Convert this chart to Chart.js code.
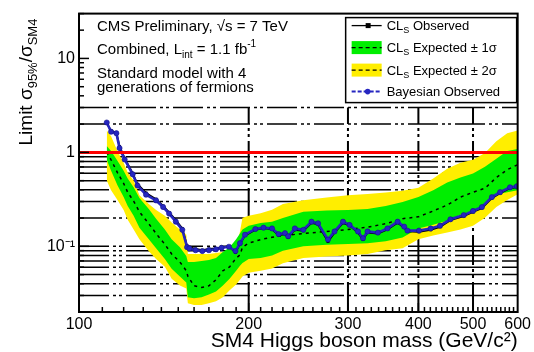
<!DOCTYPE html>
<html>
<head>
<meta charset="utf-8">
<script src="https://cdn.jsdelivr.net/npm/chart.js@4.4.0/dist/chart.umd.min.js"></script>
<style>
  html, body { margin: 0; padding: 0; background: #ffffff; }
  #c { display: block; }
</style>
</head>
<body>
<canvas id="c" width="534" height="352" style="width:534px;height:352px"></canvas>
<script>
// ---- Expected limits (median and 1/2 sigma bands) vs. mass ----
const expMass = [112,114,117,120,122,125,128,133,137,142,146,151,155,156,160,165,170,175,180,185,190,193,195,200,210,220,230,250,275,300,325,350,375,400,425,450,475,500,525,550,575,600];
const expMedian = [1.01,0.833,0.609,0.467,0.376,0.303,0.233,0.174,0.137,0.105,0.083,0.068,0.055,0.048,0.038,0.0365,0.038,0.044,0.055,0.0605,0.075,0.081,0.098,0.108,0.118,0.125,0.130,0.137,0.144,0.151,0.160,0.174,0.197,0.206,0.238,0.275,0.334,0.376,0.415,0.540,0.655,0.739];
const exp1SigHigh = [1.167,1.034,0.813,0.639,0.527,0.425,0.326,0.250,0.197,0.151,0.119,0.098,0.079,0.068,0.068,0.070,0.0716,0.075,0.087,0.098,0.119,0.137,0.151,0.166,0.177,0.183,0.200,0.233,0.240,0.244,0.250,0.269,0.296,0.334,0.395,0.479,0.540,0.595,0.704,0.853,1.034,1.085];
const exp1SigLow = [0.833,0.639,0.446,0.334,0.269,0.211,0.158,0.119,0.0955,0.0733,0.0577,0.0476,0.0412,0.0287,0.0280,0.0287,0.0308,0.0331,0.0383,0.0453,0.0549,0.0620,0.0666,0.0733,0.075,0.080,0.090,0.100,0.104,0.106,0.108,0.113,0.1245,0.155,0.170,0.1875,0.2165,0.238,0.275,0.359,0.376,0.395];
const exp2SigHigh = [1.714,1.484,1.034,0.775,0.609,0.503,0.350,0.282,0.244,0.211,0.179,0.151,0.134,0.0827,0.0827,0.0827,0.0827,0.0847,0.0868,0.0889,0.0933,0.144,0.201,0.211,0.225,0.245,0.282,0.31,0.33,0.35,0.36,0.375,0.39,0.42,0.527,0.671,0.775,0.833,0.986,1.316,1.595,1.714];
const exp2SigLow = [0.503,0.395,0.311,0.244,0.192,0.151,0.119,0.0889,0.0733,0.0605,0.0453,0.0383,0.0356,0.0248,0.0237,0.0237,0.0248,0.0260,0.0287,0.0340,0.0392,0.0442,0.0476,0.0524,0.055,0.058,0.066,0.075,0.078,0.080,0.083,0.091,0.0955,0.119,0.1306,0.140,0.151,0.166,0.201,0.262,0.311,0.359];

// ---- Observed limits ----
const obsMass = [112,114,116.5,118,120.5,124.5,127,131.5,137,141,144.5,148.5,152.5,155.5,157,161,165.5,170,175,179,184.5,189.5,193,197,205.5,212.5,220,226,232,235,241.5,250,258.5,265.5,276.5,284,294,302,312.5,319,325,339,352.5,367.5,377.5,382.5,401,420.5,437,456,481.5,500,518.5,540,558.5,581.5,598];
const obsBayesian = [2.08,1.66,1.60,1.11,0.84,0.585,0.443,0.355,0.308,0.262,0.223,0.183,0.150,0.098,0.095,0.091,0.089,0.091,0.093,0.0965,0.099,0.089,0.108,0.133,0.153,0.158,0.155,0.135,0.138,0.128,0.155,0.150,0.183,0.176,0.118,0.144,0.183,0.169,0.144,0.122,0.144,0.140,0.155,0.183,0.162,0.147,0.147,0.155,0.166,0.194,0.215,0.238,0.262,0.334,0.377,0.425,0.436];
const obsCLs = [2.05,1.70,1.62,1.16,0.87,0.60,0.46,0.37,0.318,0.27,0.23,0.19,0.155,0.101,0.098,0.094,0.091,0.094,0.095,0.098,0.100,0.086,0.106,0.130,0.150,0.156,0.152,0.131,0.135,0.124,0.150,0.146,0.178,0.171,0.112,0.140,0.178,0.166,0.140,0.118,0.140,0.137,0.151,0.178,0.158,0.144,0.143,0.150,0.161,0.190,0.210,0.232,0.255,0.326,0.368,0.415,0.428];

// ---- Reference line at sigma/sigma_SM4 = 1 ----
const refMass = [100, 600];
const refLimit = [1, 1];

// ---- Axes ----
const xTickValues = [100, 200, 300, 400, 500, 600];
const xTickLabels = ['100', '200', '300', '400', '500', '600'];
const yTickValues = [0.1, 1, 10];
const yTickLabels = ['10\u207B\u00B9', '1', '10'];
const yGridValues = [0.02,0.03,0.04,0.05,0.06,0.07,0.08,0.09,0.1,0.2,0.3,0.4,0.5,0.6,0.7,0.8,0.9,1,2,3];
const xGridValues = [200, 300, 400, 500];
const gridTopValue = 3;

const FONT = '"Liberation Sans", Arial, Helvetica, sans-serif';
const YELLOW = '#ffee00';
const GREEN = '#00ee00';
const BLUE = '#2626c0';

function pts(xs, ys) { return xs.map((x, i) => ({ x: x, y: ys[i] })); }

function drawRich(ctx, x, y, parts) {
  let cx = x;
  parts.forEach(p => {
    ctx.font = p.size + 'px ' + FONT;
    ctx.fillText(p.text, cx, y + (p.dy || 0));
    cx += ctx.measureText(p.text).width;
  });
  return cx - x;
}
function richWidth(ctx, parts) {
  let w = 0;
  parts.forEach(p => { ctx.font = p.size + 'px ' + FONT; w += ctx.measureText(p.text).width; });
  return w;
}

const gridDash = [30, 4, 3, 3, 3, 4];

const decorPlugin = {
  id: 'decor',
  beforeDatasetsDraw(chart) {
    const { ctx, chartArea: a, scales: { x, y } } = chart;
    ctx.save();
    ctx.strokeStyle = '#000';
    ctx.setLineDash(gridDash);
    ctx.lineWidth = 1.5;
    yGridValues.forEach(v => {
      const py = y.getPixelForValue(v);
      ctx.beginPath(); ctx.moveTo(a.left, py); ctx.lineTo(a.right, py); ctx.stroke();
    });
    const yTop = y.getPixelForValue(gridTopValue);
    ctx.lineWidth = 2;
    xGridValues.forEach(v => {
      const px = x.getPixelForValue(v);
      ctx.beginPath(); ctx.moveTo(px, a.bottom); ctx.lineTo(px, yTop); ctx.stroke();
    });
    ctx.restore();
  },
  afterDraw(chart) {
    const { ctx, chartArea: a, scales: { x, y } } = chart;
    ctx.save();
    ctx.setLineDash([]);
    ctx.strokeStyle = '#000';
    ctx.fillStyle = '#000';

    // tick marks on the inner side of the frame
    ctx.lineWidth = 1.5;
    const yMin = y.min, yMax = y.max;
    [0.01, 0.1, 1, 10].forEach(dec => {
      for (let k = 1; k <= 9; k++) {
        const v = k * dec;
        if (v < yMin - 1e-9 || v > yMax + 1e-9) continue;
        const py = y.getPixelForValue(v);
        const len = (k === 1) ? 10 : 5;
        ctx.beginPath(); ctx.moveTo(a.left, py); ctx.lineTo(a.left + len, py); ctx.stroke();
      }
    });
    for (let m = 110; m < 600; m += 10) {
      const px = x.getPixelForValue(m);
      const len = (m % 100 === 0) ? 9 : 5;
      ctx.beginPath(); ctx.moveTo(px, a.bottom); ctx.lineTo(px, a.bottom - len); ctx.stroke();
    }

    // frame
    ctx.lineWidth = 2;
    ctx.strokeRect(a.left, a.top, a.right - a.left, a.bottom - a.top);

    // header text
    ctx.textBaseline = 'alphabetic';
    ctx.textAlign = 'left';
    const tx = a.left + 18;
    drawRich(ctx, tx, a.top + 17, [{ text: 'CMS Preliminary, \u221As = 7 TeV', size: 15 }]);
    drawRich(ctx, tx, a.top + 40, [
      { text: 'Combined, L', size: 15 },
      { text: 'int', size: 10, dy: 4 },
      { text: ' = 1.1 fb', size: 15 },
      { text: '-1', size: 10, dy: -7 }
    ]);
    drawRich(ctx, tx, a.top + 64, [{ text: 'Standard model with 4', size: 15 }]);
    drawRich(ctx, tx, a.top + 78, [{ text: 'generations of fermions', size: 15 }]);

    // legend
    const lx = a.right - 172, ly = a.top + 4, lw = 171, lh = 85;
    ctx.fillStyle = '#fff';
    ctx.fillRect(lx, ly, lw, lh);
    ctx.lineWidth = 1.5;
    ctx.strokeRect(lx, ly, lw, lh);
    const sx0 = lx + 6, sx1 = lx + 36, txl = lx + 41;
    const rows = [ly + 8, ly + 30, ly + 52.5, ly + 74];
    // CLs observed
    ctx.strokeStyle = '#000'; ctx.lineWidth = 1.3;
    ctx.beginPath(); ctx.moveTo(sx0, rows[0]); ctx.lineTo(sx1, rows[0]); ctx.stroke();
    ctx.fillStyle = '#000'; ctx.fillRect(sx0 + 14, rows[0] - 2.5, 5, 5);
    // expected bands
    ctx.fillStyle = GREEN; ctx.fillRect(sx0, rows[1] - 6.5, 30, 13);
    ctx.fillStyle = YELLOW; ctx.fillRect(sx0, rows[2] - 6.5, 30, 13);
    ctx.setLineDash([4, 3]); ctx.lineWidth = 1.3; ctx.strokeStyle = '#000';
    [rows[1], rows[2]].forEach(r => { ctx.beginPath(); ctx.moveTo(sx0, r); ctx.lineTo(sx1, r); ctx.stroke(); });
    // Bayesian observed
    ctx.setLineDash([4, 2]); ctx.strokeStyle = BLUE; ctx.lineWidth = 2;
    ctx.beginPath(); ctx.moveTo(sx0, rows[3]); ctx.lineTo(sx1, rows[3]); ctx.stroke();
    ctx.setLineDash([]);
    ctx.fillStyle = BLUE; ctx.beginPath(); ctx.arc(sx0 + 16, rows[3], 2.8, 0, Math.PI * 2); ctx.fill();

    ctx.fillStyle = '#000';
    const ls = 13, ss = 9;
    drawRich(ctx, txl, rows[0] + 4.5, [{ text: 'CL', size: ls }, { text: 'S', size: ss, dy: 3 }, { text: ' Observed', size: ls }]);
    drawRich(ctx, txl, rows[1] + 4.5, [{ text: 'CL', size: ls }, { text: 'S', size: ss, dy: 3 }, { text: ' Expected \u00B1 1\u03C3', size: ls }]);
    drawRich(ctx, txl, rows[2] + 4.5, [{ text: 'CL', size: ls }, { text: 'S', size: ss, dy: 3 }, { text: ' Expected \u00B1 2\u03C3', size: ls }]);
    drawRich(ctx, txl, rows[3] + 4.5, [{ text: 'Bayesian Observed', size: ls }]);

    // y-axis title, rotated, aligned to the top of the frame
    const yParts = [
      { text: 'Limit ', size: 19 },
      { text: '\u03C3', size: 19 },
      { text: '95%', size: 13, dy: 5 },
      { text: '/', size: 19 },
      { text: '\u03C3', size: 19 },
      { text: 'SM4', size: 13, dy: 5 }
    ];
    const yw = richWidth(ctx, yParts);
    ctx.translate(32, a.top + 5 + yw);
    ctx.rotate(-Math.PI / 2);
    drawRich(ctx, 0, 0, yParts);
    ctx.restore();
  }
};

const ctx = document.getElementById('c').getContext('2d');
new Chart(ctx, {
  type: 'line',
  data: {
    datasets: [
      { label: 'CLs Expected \u00B1 2\u03C3', data: pts(expMass, exp2SigHigh), fill: '+1', backgroundColor: YELLOW, borderWidth: 0, borderColor: 'rgba(0,0,0,0)', pointRadius: 0, order: 10 },
      { label: 'exp2low', data: pts(expMass, exp2SigLow), fill: false, borderWidth: 0, borderColor: 'rgba(0,0,0,0)', pointRadius: 0, order: 10 },
      { label: 'CLs Expected \u00B1 1\u03C3', data: pts(expMass, exp1SigHigh), fill: '+1', backgroundColor: GREEN, borderWidth: 0, borderColor: 'rgba(0,0,0,0)', pointRadius: 0, order: 9 },
      { label: 'exp1low', data: pts(expMass, exp1SigLow), fill: false, borderWidth: 0, borderColor: 'rgba(0,0,0,0)', pointRadius: 0, order: 9 },
      { label: 'CLs Expected', data: pts(expMass, expMedian), fill: false, borderColor: '#000', borderWidth: 1.5, borderDash: [3, 4], pointRadius: 0, order: 8 },
      { label: 'CLs Observed', data: pts(obsMass, obsCLs), fill: false, borderColor: '#000', borderWidth: 1.8, pointStyle: 'rect', pointRadius: 2, pointBackgroundColor: '#000', pointBorderColor: '#000', pointBorderWidth: 0, order: 7 },
      { label: 'Bayesian Observed', data: pts(obsMass, obsBayesian), fill: false, borderColor: BLUE, borderWidth: 2.6, pointStyle: 'circle', pointRadius: 2.6, pointBackgroundColor: BLUE, pointBorderColor: '#14148a', pointBorderWidth: 0.6, order: 6 },
      { label: 'SM4', data: pts(refMass, refLimit), fill: false, borderColor: '#ff0000', borderWidth: 3, pointRadius: 0, order: 5 }
    ]
  },
  options: {
    responsive: false,
    animation: false,
    devicePixelRatio: 1,
    layout: { padding: { left: 0, top: 8, right: 13, bottom: 0 } },
    plugins: { legend: { display: false }, tooltip: { enabled: false } },
    elements: { line: { tension: 0 } },
    scales: {
      x: {
        type: 'logarithmic', min: 100, max: 600,
        grid: { display: false, drawTicks: false }, border: { display: false },
        afterBuildTicks: s => { s.ticks = xTickValues.map(v => ({ value: v })); },
        afterFit: s => { s.height = 40; },
        ticks: {
          autoSkip: false, maxRotation: 0, padding: 3, color: '#000',
          font: { family: FONT, size: 16 },
          callback: v => xTickLabels[xTickValues.indexOf(v)]
        },
        title: {
          display: true, text: 'SM4 Higgs boson mass (GeV/c\u00B2)', align: 'end', color: '#000',
          font: { family: FONT, size: 21, lineHeight: 1.0 }, padding: { top: 0, bottom: 0 }
        }
      },
      y: {
        type: 'logarithmic', min: 0.02, max: 30,
        grid: { display: false, drawTicks: false }, border: { display: false },
        afterBuildTicks: s => { s.ticks = yTickValues.map(v => ({ value: v })); },
        afterFit: s => { s.width = 79; },
        ticks: {
          autoSkip: false, padding: 4, color: '#000',
          font: { family: FONT, size: 16 },
          callback: v => yTickLabels[yTickValues.indexOf(v)]
        }
      }
    }
  },
  plugins: [decorPlugin]
});
</script>
</body>
</html>
